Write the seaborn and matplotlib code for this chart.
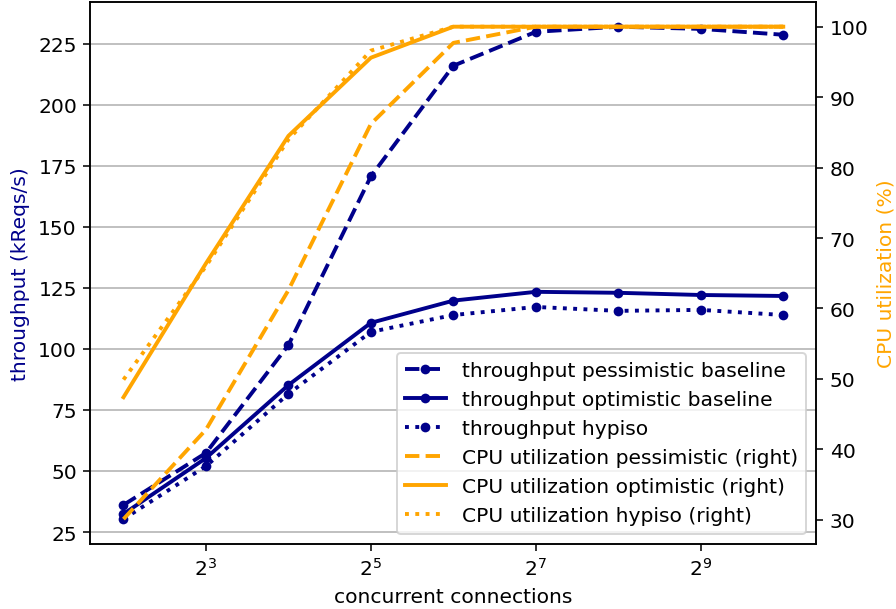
import numpy as np
import pandas as pd
import matplotlib
matplotlib.use("Agg")
import matplotlib.pyplot as plt
import matplotlib.ticker as mticker
import seaborn as sns

# data
connections = [4, 8, 16, 32, 64, 128, 256, 512, 1024]
tput_pessimistic = [36.1, 57.4, 101.6, 170.7, 216.0, 229.9, 232.0, 231.1, 228.7]
tput_optimistic = [32.4, 55.3, 85.2, 110.7, 119.8, 123.4, 123.0, 122.1, 121.7]
tput_hypiso = [30.3, 52.0, 81.6, 107.0, 113.9, 117.2, 115.6, 116.0, 113.9]
cpu_pessimistic = [30.1, 42.8, 62.6, 86.2, 97.7, 100.0, 100.0, 100.0, 100.0]
cpu_optimistic = [47.4, 66.4, 84.5, 95.6, 100.0, 100.0, 100.0, 100.0, 100.0]
cpu_hypiso = [49.9, 66.0, 84.0, 96.6, 100.0, 100.0, 100.0, 100.0, 100.0]
xticks = [8, 32, 128, 512]

df = pd.DataFrame({
    "connections": connections,
    "tput_pess": tput_pessimistic,
    "tput_opt": tput_optimistic,
    "tput_hyp": tput_hypiso,
    "cpu_pess": cpu_pessimistic,
    "cpu_opt": cpu_optimistic,
    "cpu_hyp": cpu_hypiso,
})

blue = "darkblue"
orange = "orange"

plt.rcParams["font.size"] = 10.45

fig, ax = plt.subplots(figsize=(6.4, 4.357), dpi=140)
fig.subplots_adjust(left=0.101, right=0.911, top=0.995, bottom=0.107)
ax2 = ax.twinx()

sns.lineplot(data=df, x="connections", y="tput_pess", ax=ax, color=blue, linestyle="--",
             marker="o", markersize=5, markeredgewidth=0, linewidth=2,
             label="throughput pessimistic baseline", legend=False)
sns.lineplot(data=df, x="connections", y="tput_opt", ax=ax, color=blue, linestyle="-",
             marker="o", markersize=5, markeredgewidth=0, linewidth=2,
             label="throughput optimistic baseline", legend=False)
sns.lineplot(data=df, x="connections", y="tput_hyp", ax=ax, color=blue, linestyle=":",
             marker="o", markersize=5, markeredgewidth=0, linewidth=2,
             label="throughput hypiso", legend=False)

sns.lineplot(data=df, x="connections", y="cpu_pess", ax=ax2, color=orange, linestyle="--",
             linewidth=2, label="CPU utilization pessimistic (right)", legend=False)
sns.lineplot(data=df, x="connections", y="cpu_opt", ax=ax2, color=orange, linestyle="-",
             linewidth=2, label="CPU utilization optimistic (right)", legend=False)
sns.lineplot(data=df, x="connections", y="cpu_hyp", ax=ax2, color=orange, linestyle=":",
             linewidth=2, label="CPU utilization hypiso (right)", legend=False)

ax.set_xscale("log", base=2)
ax.set_xticks(xticks)
ax.xaxis.set_major_formatter(mticker.LogFormatterMathtext(base=2))
ax.xaxis.set_minor_locator(mticker.NullLocator())
ax.set_xlabel("concurrent connections")
ax.set_ylabel("throughput (kReqs/s)", color=blue)
ax2.set_ylabel("CPU utilization (%)", color=orange)
ax.grid(axis="y", color="#b0b0b0")
ax.set_axisbelow(True)

h1, l1 = ax.get_legend_handles_labels()
h2, l2 = ax2.get_legend_handles_labels()
ax2.legend(h1 + h2, l1 + l2, loc="lower right")

plt.savefig("out.png", dpi=140)
